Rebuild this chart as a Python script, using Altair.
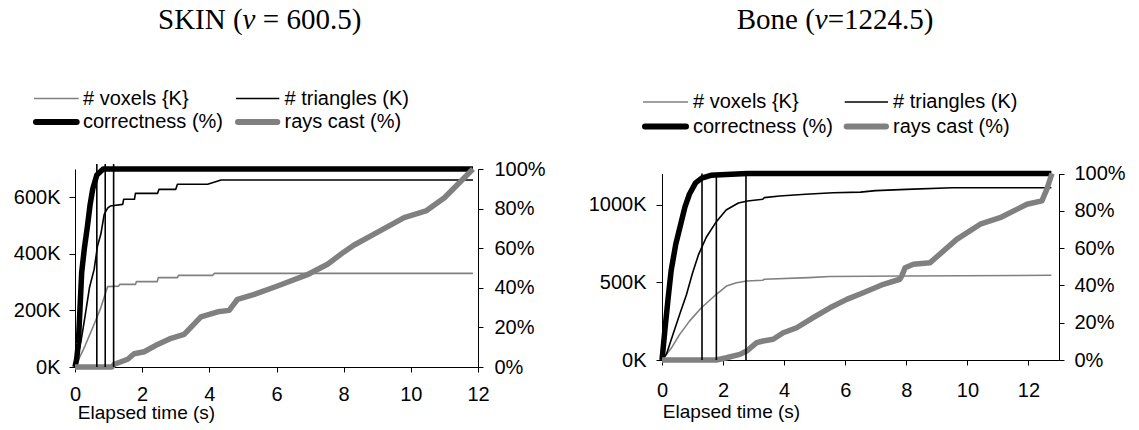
import altair as alt
import pandas as pd

SERIES = ["# voxels {K}", "# triangles (K)", "correctness (%)", "rays cast (%)"]
COLORS = ["#808080", "#000000", "#000000", "#808080"]
WIDTHS = [1.6, 1.6, 5.5, 5.5]

# ---------------- SKIN (v = 600.5) ----------------
skin_vox_t = [0, 0.3, 0.57, 0.77, 0.97, 1.3, 1.33, 1.8, 1.83, 2.45, 2.48, 3.05, 3.08, 4.1, 4.15, 11.85]
skin_vox_k = [0, 75, 151, 210, 284, 286, 292, 292, 302, 302, 316, 316, 324, 324, 331, 331]
skin_tri_t = [0, 0.05, 0.18, 0.3, 0.43, 0.57, 0.67, 0.77, 0.87, 0.97, 1.05, 1.42, 1.45, 1.77, 1.8,
              2.46, 2.5, 3.0, 3.05, 3.95, 4.35, 11.85]
skin_tri_k = [0, 20, 92, 180, 280, 345, 428, 470, 540, 562, 569, 575, 593, 593, 614,
              614, 628, 628, 646, 646, 661, 661]
skin_cor_t = [0, 0.05, 0.1, 0.15, 0.2, 0.28, 0.37, 0.45, 0.53, 0.65, 0.84, 11.85]
skin_cor_p = [0, 4, 12, 30, 48, 60, 71, 82, 90, 97, 100, 100]
skin_ray_t = [0, 1.1, 1.17, 1.57, 1.76, 2.06, 2.46, 2.86, 3.25, 3.75, 4.25, 4.59, 4.84, 5.34,
              6.03, 6.9, 7.52, 8.0, 8.3, 9.0, 9.8, 10.45, 11.0, 11.4, 11.85]
skin_ray_p = [0, 0, 1.4, 3.9, 6.7, 7.7, 11.4, 14.5, 16.5, 25.3, 27.9, 28.6, 34.2, 36.7,
              40.9, 46.5, 51.9, 58, 61.5, 68, 75.4, 78.8, 85.5, 92.3, 100]
skin_marks_t = [0.65, 0.9, 1.15]
skin_marks_top = 102.5

# ---------------- Bone (v=1224.5) ----------------
bone_vox_t = [0, 0.3, 0.58, 0.9, 1.29, 1.78, 2.11, 2.44, 2.77, 3.3, 3.35, 4.8, 5.5, 8, 12.75]
bone_vox_k = [0, 75, 165, 250, 336, 423, 476, 497, 508, 513, 520, 530, 537, 540, 545]
bone_tri_t = [0, 0.15, 0.35, 0.58, 0.8, 1.0, 1.2, 1.45, 1.78, 2.1, 2.5, 2.8, 3.3, 3.35, 3.85,
              4.7, 5.6, 6.5, 7.0, 8.0, 9.5, 12.75]
bone_tri_k = [0, 40, 160, 294, 420, 560, 680, 790, 890, 965, 1010, 1023, 1034, 1045, 1055,
              1066, 1076, 1080, 1090, 1098, 1108, 1108]
bone_cor_t = [0, 0.03, 0.1, 0.2, 0.3, 0.45, 0.6, 0.75, 0.9, 1.1, 1.3, 1.6, 2.1, 2.8, 12.75]
bone_cor_p = [0, 5, 17, 33, 48, 62, 72, 82, 89, 95, 97.5, 99, 99.5, 100, 100]
bone_ray_t = [0, 1.78, 2.11, 2.55, 2.77, 3.1, 3.31, 3.64, 3.97, 4.41, 4.95, 5.5, 6.05, 6.59,
              7.25, 7.79, 7.85, 7.96, 8.23, 8.78, 9.65, 10.42, 11.07, 11.95, 12.44, 12.6, 12.77]
bone_ray_p = [0, 0, 1.2, 3, 4.8, 9.3, 10.2, 11.1, 14.6, 17.3, 22.7, 28, 32.5, 36.1,
              40.6, 43.3, 45, 49.5, 51.3, 52.2, 64.7, 72.8, 76.3, 83.5, 85.3, 91.5, 100]
bone_marks_t = [1.31, 1.78, 2.75]
bone_marks_top = 100

X_TICKS = [0, 2, 4, 6, 8, 10, 12]
PCT_TICKS = [0, 20, 40, 60, 80, 100]


def series_df(ts, vs):
    return pd.DataFrame({"t": ts, "v": vs, "i": list(range(len(ts)))})


def panel(title_parts, vox, tri, cor, ray, marks_t, marks_top, xmax, kmax, kticks,
          W, H, top_off, lay):
    xdef = alt.X("t:Q", scale=alt.Scale(domain=[0, xmax], nice=False, zero=False),
                 axis=alt.Axis(values=X_TICKS, title="Elapsed time (s)",
                               labelPadding=lay["xlabpad"], titleX=lay["titleX"],
                               titleY=lay["titleY"], titleAlign="center",
                               titleBaseline="alphabetic", titleAnchor="start"))
    kaxis = alt.Axis(orient="left", values=kticks, labelExpr="datum.value + 'K'",
                     title=None, labelPadding=lay["klabpad"], tickSize=6)
    paxis = alt.Axis(orient="right", values=PCT_TICKS, labelExpr="datum.value + '%'",
                     title=None, labelPadding=lay["plabpad"])
    kscale = alt.Scale(domain=[0, kmax], nice=False, zero=True, range=[H, top_off])
    pscale = alt.Scale(domain=[0, 100], nice=False, zero=True, range=[H, top_off])

    def line(ts, vs, idx, scale, axis):
        return alt.Chart(series_df(ts, vs)).mark_line(
            color=COLORS[idx], strokeWidth=WIDTHS[idx], strokeJoin="round").encode(
            x=xdef, y=alt.Y("v:Q", scale=scale, axis=axis), order="i:Q")

    mdf = pd.DataFrame({"t": marks_t, "y0": [0] * len(marks_t), "y1": [marks_top] * len(marks_t)})
    rules = alt.Chart(mdf).mark_rule(color="black", strokeWidth=1.6).encode(
        x=xdef, y=alt.Y("y0:Q", scale=pscale, axis=paxis), y2="y1:Q")

    klayer = alt.layer(line(vox[0], vox[1], 0, kscale, kaxis),
                       line(tri[0], tri[1], 1, kscale, kaxis))
    player = alt.layer(line(cor[0], cor[1], 2, pscale, paxis),
                       line(ray[0], ray[1], 3, pscale, paxis), rules)

    deco = []
    # legend (2 columns x 2 rows)
    for idx, name in enumerate(SERIES):
        col, row = idx % 2, idx // 2
        x1, x2 = lay["leg_sym"][col]
        yy = lay["leg_rows"][row]
        thick = WIDTHS[idx] > 3
        deco.append(alt.Chart(pd.DataFrame({"series": [name]})).mark_rule(
            color=COLORS[idx], strokeWidth=6 if thick else 1.6,
            strokeCap="round" if thick else "butt").encode(
            x=alt.value(x1 + (2 if thick else 0)), x2=alt.value(x2 - (2 if thick else 0)),
            y=alt.value(yy)))
        deco.append(alt.Chart(pd.DataFrame({"series": [name]})).mark_text(
            align="left", baseline="middle", fontSize=20, font="Liberation Sans",
            color="black").encode(
            x=alt.value(lay["leg_text"][col]), y=alt.value(yy), text="series:N"))
    # title with italic v
    tx = lay["title_x"]
    for txt, style, adv in title_parts:
        deco.append(alt.Chart(pd.DataFrame({"txt": [txt]})).mark_text(
            align="left", baseline="alphabetic", fontSize=29, font="Liberation Serif",
            fontStyle=style, color="black").encode(
            x=alt.value(tx), y=alt.value(lay["title_y"]), text="txt:N"))
        tx += adv

    return alt.layer(klayer, player, *deco).resolve_scale(y="independent").properties(
        width=W, height=H)


skin_layout = dict(xlabpad=12, klabpad=9, plabpad=11, titleX=71, titleY=51,
                   leg_sym=[(-41, 3.7), (161, 204.3)], leg_text=[8, 209.5],
                   leg_rows=[-70.5, -47], title_x=83, title_y=-139.7)
bone_layout = dict(xlabpad=15, klabpad=10, plabpad=10, titleX=69, titleY=57,
                   leg_sym=[(-19, 26), (182.7, 226)], leg_text=[31, 231],
                   leg_rows=[-67, -42.5], title_x=74.7, title_y=-139.7)

skin = panel([("SKIN (", "normal", 84.6), ("v", "italic", 20.2), ("= 600.5)", "normal", 0)],
             (skin_vox_t, skin_vox_k), (skin_tri_t, skin_tri_k),
             (skin_cor_t, skin_cor_p), (skin_ray_t, skin_ray_p),
             skin_marks_t, skin_marks_top, 12, 700, [0, 200, 400, 600], 403, 198, 0,
             skin_layout)
bone = panel([("Bone (", "normal", 78.1), ("v", "italic", 12.9), ("=1224.5)", "normal", 0)],
             (bone_vox_t, bone_vox_k), (bone_tri_t, bone_tri_k),
             (bone_cor_t, bone_cor_p), (bone_ray_t, bone_ray_p),
             bone_marks_t, bone_marks_top, 13, 1200, [0, 500, 1000], 397, 191, 4.5,
             bone_layout)

chart = alt.hconcat(skin, bone, spacing=42).properties(
    padding={"left": 13, "top": 6, "right": 5, "bottom": 5}
).configure_view(stroke=None).configure_axis(
    labelFont="Liberation Sans", titleFont="Liberation Sans", labelColor="black",
    titleColor="black", domainColor="black", tickColor="black", grid=False,
    labelFontSize=20, titleFontSize=19, titleFontWeight="normal", labelFlush=False,
    labelOverlap=False, tickSize=5, domainWidth=1, tickWidth=1
)

chart.save("out.html", embed_options={"renderer": "svg", "actions": False})
